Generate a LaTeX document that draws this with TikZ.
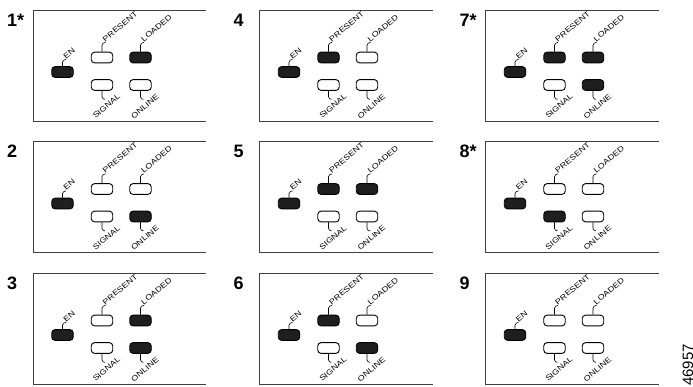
\documentclass[tikz,border=0pt]{standalone}
\usepackage{fontspec}
\setmainfont{Liberation Sans}
\newfontfamily\lblfont[FakeStretch=1.2]{Liberation Sans}
\begin{document}
\begin{tikzpicture}[x=1pt,y=-1pt,
  frame/.style={draw=black!75, line width=1pt},
  led/.style={draw=black, line width=0.9pt, rounded corners=3.4pt, minimum width=21.5pt, minimum height=10.8pt, inner sep=0pt},
  ledon/.style={led, fill=black!88},
  ledoff/.style={led, fill=white},
  lead/.style={draw=black, line width=0.6pt},
  tag/.style={font=\lblfont\fontsize{7.5}{7.5}\selectfont, inner sep=0pt, rotate=40},
  num/.style={font=\bfseries\fontsize{18}{18}\selectfont, inner sep=0pt, anchor=base west}]
\useasboundingbox (0,0) rectangle (693,386);
\foreach \id/\cx/\cy/\lab/\sp/\sl/\ss/\so in {
  1/33/10/1*/ledoff/ledon/ledoff/ledoff,
  2/33/141.5/2/ledoff/ledoff/ledoff/ledon,
  3/33/273/3/ledoff/ledon/ledoff/ledon,
  4/259.5/10/4/ledon/ledoff/ledoff/ledoff,
  5/259.5/141.5/5/ledon/ledon/ledoff/ledoff,
  6/259.5/273/6/ledon/ledoff/ledoff/ledon,
  7/485.5/10/7*/ledon/ledon/ledoff/ledon,
  8/485.5/141.5/8*/ledoff/ledoff/ledon/ledoff,
  9/485.5/273/9/ledoff/ledoff/ledoff/ledoff}
{
  \begin{scope}[shift={(\cx,\cy)}]
    \draw[frame] (173,0) -- (0,0) -- (0,111) -- (173,111);
    \node[num] (n\id) at (-26,16) {\lab};
    \node[ledon] (en\id) at (29.5,62) {};
    \node[\sp] (pr\id) at (69,47.5) {};
    \node[\sl] (lo\id) at (107.5,47.5) {};
    \node[\ss] (si\id) at (69,75) {};
    \node[\so] (on\id) at (107.5,75) {};
    % top leaders
    \draw[lead] (en\id.north) -- ++(0,-4) .. controls +(0,-1.5) and +(-1.5,0) .. ++(3.5,-2.8) coordinate (hen\id);
    \node[tag, anchor=south west] (ten\id) at (hen\id) {EN};
    \draw[lead] (pr\id.north) -- ++(0,-6.5) .. controls +(0,-1.5) and +(-1.5,0) .. ++(3.5,-2.8) coordinate (hpr\id);
    \node[tag, anchor=south west] (tpr\id) at (hpr\id) {PRESENT};
    \draw[lead] (lo\id.north) -- ++(0,-6.5) .. controls +(0,-1.5) and +(-1.5,0) .. ++(3.5,-2.8) coordinate (hlo\id);
    \node[tag, anchor=south west] (tlo\id) at (hlo\id) {LOADED};
    % bottom leaders
    \draw[lead] (si\id.south) -- ++(0,6) .. controls +(0,1.5) and +(-1.5,0) .. ++(3,2.5) coordinate (hsi\id) ++(1.5,7) coordinate (csi\id);
    \node[tag, anchor=center] (tsi\id) at (csi\id) {SIGNAL};
    \draw[lead] (on\id.south) -- ++(0,6) .. controls +(0,1.5) and +(-1.5,0) .. ++(3,2.5) coordinate (hon\id) ++(1.5,7) coordinate (con\id);
    \node[tag, anchor=center] (ton\id) at (con\id) {ONLINE};
  \end{scope}
}
\node[font=\fontsize{15}{15}\selectfont, rotate=90, anchor=base west, inner sep=0pt] (fig) at (693,386) {46957};
\end{tikzpicture}
\end{document}
